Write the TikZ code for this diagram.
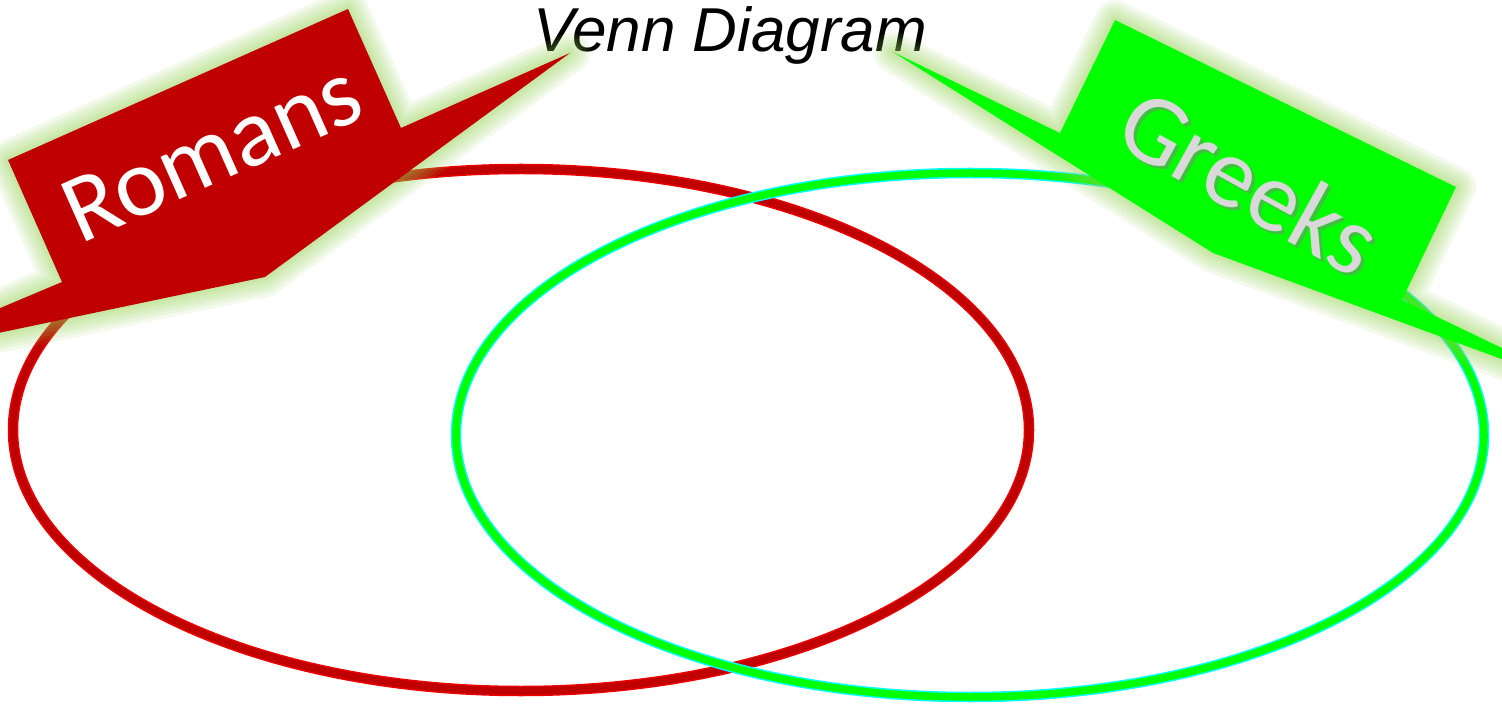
\documentclass[tikz,border=0pt]{standalone}
\usepackage{fontspec}
\setmainfont{Carlito}
\newfontfamily\titlefont{Liberation Sans}
\definecolor{romred}{RGB}{192,0,0}
\definecolor{romedge}{RGB}{235,0,0}
\definecolor{grkgreen}{RGB}{0,255,0}
\definecolor{grkedge}{RGB}{0,255,255}
\definecolor{glowc}{RGB}{146,208,80}
\definecolor{grktext}{RGB}{217,217,217}
\tikzset{
  romanshape/.style={insert path={(8,160) -- (348,9) -- (401,128) -- (570,53) -- (265,277) -- (-116,357) -- (62,282) -- cycle}},
  greekshape/.style={insert path={(1115,20) -- (1456,187) -- (1402,300) -- (1602,396) -- (1213,253) -- (893,52) -- (1060,133) -- cycle}},
  glowline/.style={draw=glowc, line join=round, draw opacity=0.11, line width=#1},
  ringouter/.style={line width=10.5pt},
  ringinner/.style={line width=7.5pt},
  labeltext/.style={font=\fontsize{97}{97}\selectfont, inner sep=0pt},
}
\begin{document}
\begin{tikzpicture}[x=1pt,y=-1pt]
\useasboundingbox (0,0) rectangle (1502,708);
\clip (0,0) rectangle (1502,708);
% title
\node[anchor=base, inner sep=0pt, font=\titlefont\itshape\fontsize{62}{62}\selectfont] (title) at (730,52) {Venn Diagram};
% Romans ring
\draw[ringouter, romedge] (521,430) ellipse [x radius=508, y radius=261];
\draw[ringinner, romred] (521,430) ellipse [x radius=508, y radius=261];
% Greeks ring
\draw[ringouter, grkedge] (970,435) ellipse [x radius=514, y radius=262];
\draw[ringinner, grkgreen] (970,435) ellipse [x radius=514, y radius=262];
% Romans callout
\foreach \w in {40,33,26,19,12,6} { \path[romanshape, glowline=\w pt]; }
\fill[romred, romanshape];
\node[labeltext, white, rotate=24] (romans) at (212,152) {Romans};
% Greeks callout
\foreach \w in {40,33,26,19,12,6} { \path[greekshape, glowline=\w pt]; }
\fill[grkgreen, greekshape];
\node[labeltext, black!50, opacity=0.5, rotate=-29, font=\fontsize{100}{100}\selectfont] (greeksshadow) at (1253,184) {Greeks};
\node[labeltext, grktext, rotate=-29, font=\fontsize{100}{100}\selectfont] (greeks) at (1250,181) {Greeks};
\end{tikzpicture}
\end{document}
